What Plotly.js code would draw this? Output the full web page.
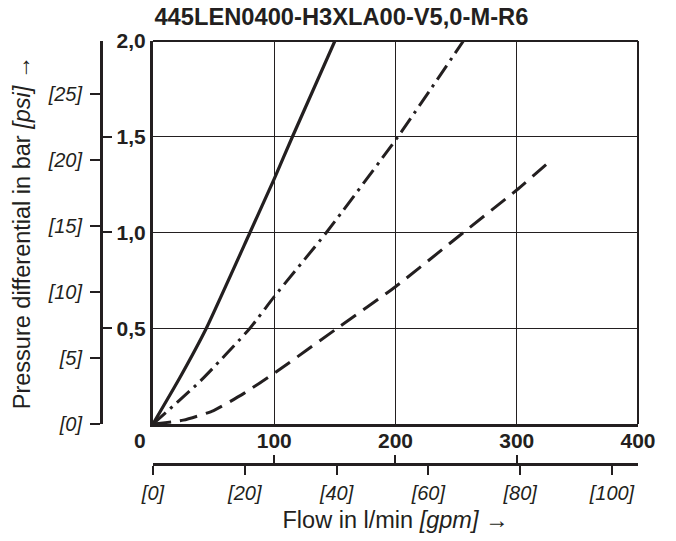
<!DOCTYPE html>
<html>
<head>
<meta charset="utf-8">
<script src="https://cdn.plot.ly/plotly-3.0.1.min.js"></script>
<style>html,body{margin:0;padding:0;background:#fff;}#chart{width:676px;height:541px;}</style>
</head>
<body>
<div id="chart"></div>
<script>
// Flow in l/min
const solidFlow = [0, 22, 44, 80, 100, 115, 150];
const solidDp   = [0, 0.24, 0.5, 1.0, 1.28, 1.5, 2.0];
const dashDotFlow = [0, 40, 80, 100, 143, 202, 256];
const dashDotDp   = [0, 0.23, 0.5, 0.665, 1.0, 1.5, 2.0];
const dashFlow = [0, 25, 50, 75, 100, 152, 200, 256, 300, 330];
const dashDp   = [0, 0.02, 0.07, 0.16, 0.265, 0.5, 0.717, 1.0, 1.222, 1.387];

const flowTicks = [100, 200, 300, 400];
const flowTickText = ['100', '200', '300', '400'];
const barTicks = [0.5, 1.0, 1.5, 2.0];
const barTickText = ['0,5', '1,0', '1,5', '2,0'];
const psiTicks = [0, 5, 10, 15, 20, 25];
const psiTickText = ['[0]', '[5]', '[10]', '[15]', '[20]', '[25]'];
const gpmTicks = [0, 20, 40, 60, 80, 100];
const gpmTickText = ['[0]', '[20]', '[40]', '[60]', '[80]', '[100]'];

const L_PER_GAL = 3.785;
const PSI_PER_BAR = 14.5038;
const xMax = 400, yMax = 2.0;

const ink = '#231f20';
const fam = 'Liberation Sans, Arial, Helvetica, sans-serif';

const traces = [
  {x: solidFlow, y: solidDp, mode: 'lines', line: {color: ink, width: 3.2, shape: 'spline', smoothing: 0.5}, hoverinfo: 'skip'},
  {x: dashDotFlow, y: dashDotDp, mode: 'lines', line: {color: ink, width: 3, dash: '17px,6px,3px,6px', shape: 'spline', smoothing: 0.5}, hoverinfo: 'skip'},
  {x: dashFlow, y: dashDp, mode: 'lines', line: {color: ink, width: 3, dash: '18px,9px', shape: 'spline', smoothing: 0.5}, hoverinfo: 'skip'},
  // empty traces that bind the secondary scales to subplots
  {x: [], y: [], xaxis: 'x2', yaxis: 'y', mode: 'lines', hoverinfo: 'skip'},
  {x: [], y: [], xaxis: 'x3', yaxis: 'y', mode: 'lines', hoverinfo: 'skip'},
  {x: [], y: [], xaxis: 'x', yaxis: 'y2', mode: 'lines', hoverinfo: 'skip'},
  {x: [], y: [], xaxis: 'x', yaxis: 'y3', mode: 'lines', hoverinfo: 'skip'}
];

const xd = [0.0968, 1], yd = [0.0946, 1];

const layout = {
  width: 676, height: 541,
  margin: {l: 101, r: 38, t: 41, b: 77, pad: 0},
  paper_bgcolor: '#fff', plot_bgcolor: '#fff',
  showlegend: false,
  title: {text: '445LEN0400-H3XLA00-V5,0-M-R6', font: {family: fam, size: 23.7, color: ink, weight: 'bold'},
          x: 0.505, xref: 'container', xanchor: 'center', y: 0.9695, yref: 'container', yanchor: 'middle'},
  xaxis: {domain: xd, range: [0, xMax], tickvals: flowTicks, ticktext: flowTickText,
          showgrid: true, gridcolor: ink, gridwidth: 1.3, zeroline: false,
          showline: true, linecolor: ink, linewidth: 3, ticks: '', ticklabelstandoff: -4,
          tickfont: {family: fam, size: 21, color: ink, weight: 'bold'}, fixedrange: true},
  yaxis: {domain: yd, range: [0, yMax], tickvals: barTicks, ticktext: barTickText,
          showgrid: true, gridcolor: ink, gridwidth: 1.3, zeroline: false,
          showline: true, linecolor: ink, linewidth: 3, ticks: '', ticklabelstandoff: 0,
          tickfont: {family: fam, size: 21, color: ink, weight: 'bold'}, fixedrange: true},
  // psi scale (left, free)
  yaxis2: {overlaying: 'y', anchor: 'free', position: 0, side: 'left', range: [0, yMax * PSI_PER_BAR],
           tickvals: psiTicks, ticktext: psiTickText, showgrid: false, zeroline: false,
           showline: true, linecolor: ink, linewidth: 3, ticks: 'outside', ticklen: 10, tickwidth: 2, tickcolor: ink,
           ticklabelstandoff: 4,
           tickfont: {family: fam, size: 20, color: ink, style: 'italic'},
           title: {text: 'Pressure differential in bar <i>[psi]</i> →', font: {family: fam, size: 23.5, color: ink}, standoff: 9},
           fixedrange: true},
  // bar ticks on psi line
  yaxis3: {overlaying: 'y', anchor: 'free', position: 0, side: 'left', range: [0, yMax],
           tickvals: [0, 0.5, 1, 1.5, 2], showticklabels: false, showgrid: false, zeroline: false, showline: false,
           ticks: 'inside', ticklen: 10, tickwidth: 2, tickcolor: ink, fixedrange: true},
  // gpm scale (bottom, free)
  xaxis2: {overlaying: 'x', anchor: 'free', position: 0, side: 'bottom', range: [0, xMax / L_PER_GAL],
           tickvals: gpmTicks, ticktext: gpmTickText, showgrid: false, zeroline: false,
           showline: true, linecolor: ink, linewidth: 3, ticks: 'outside', ticklen: 9, tickwidth: 2, tickcolor: ink,
           ticklabelstandoff: 1,
           tickfont: {family: fam, size: 20, color: ink, style: 'italic'},
           title: {text: 'Flow in l/min <i>[gpm]</i> →', font: {family: fam, size: 23.5, color: ink}, standoff: 8},
           fixedrange: true},
  // l/min ticks on gpm line
  xaxis3: {overlaying: 'x', anchor: 'free', position: 0, side: 'bottom', range: [0, xMax],
           tickvals: [0, 100, 200, 300, 400], showticklabels: false, showgrid: false, zeroline: false, showline: false,
           ticks: 'inside', ticklen: 9, tickwidth: 2, tickcolor: ink, fixedrange: true},
  shapes: [
    {type: 'line', xref: 'x domain', yref: 'y domain', x0: 0, x1: 1, y0: 1, y1: 1, line: {color: ink, width: 2}},
    {type: 'line', xref: 'x domain', yref: 'y domain', x0: 1, x1: 1, y0: 0, y1: 1, line: {color: ink, width: 2}}
  ],
  annotations: [
    {text: '0', xref: 'x', yref: 'y domain', x: 0, y: 0, xshift: -13, yshift: -3, xanchor: 'center', yanchor: 'top',
     showarrow: false, font: {family: fam, size: 21, color: ink, weight: 'bold'}}
  ]
};

Plotly.newPlot('chart', traces, layout, {displayModeBar: false, staticPlot: true});
</script>
</body>
</html>
